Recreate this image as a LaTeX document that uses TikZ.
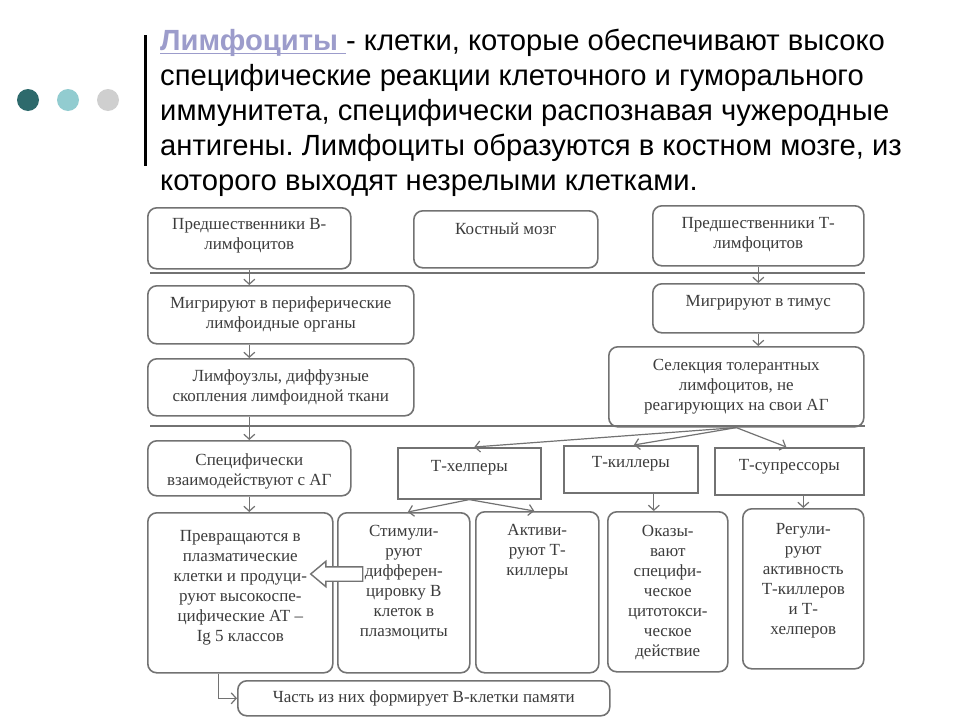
\documentclass[tikz,border=0pt]{standalone}
\usepackage{fontspec}
\setmainfont{Liberation Serif}
\newfontfamily\zagfont{Liberation Sans}
\usetikzlibrary{arrows.meta,shapes.arrows}
\definecolor{ramkacvet}{HTML}{727272}
\definecolor{tekstcvet}{HTML}{3C3C3C}
\definecolor{lilov}{HTML}{9C9CCB}
\definecolor{temnbir}{HTML}{2E6A6C}
\definecolor{svetbir}{HTML}{92CCD0}
\definecolor{serkrug}{HTML}{CFCFCF}
\newcommand{\podch}[1]{\setbox0\hbox{#1}\rlap{\rule[-3.5pt]{\wd0}{1.5pt}}\box0}
\frenchspacing

\begin{document}
\begin{tikzpicture}[x=1pt,y=-1pt,
  blok/.style = {draw=ramkacvet,line width=1.6pt,rounded corners=9pt,fill=white,anchor=north west,inner sep=0pt},
  ramka/.style = {draw=ramkacvet,line width=1.6pt,fill=white,anchor=north west,inner sep=0pt},
  tekst/.style = {anchor=north,align=center,inner sep=0pt,text=tekstcvet,font=\fontsize{17}{20}\selectfont},
  krug/.style = {circle,inner sep=0pt,minimum size=22pt},
  strelka/.style = {draw=ramkacvet,line width=1.2pt,-{Straight Barb[length=5pt,width=11pt]}},
  liniya/.style = {draw=ramkacvet,line width=1.2pt}]

\path[use as bounding box,fill=white] (0,0) rectangle (960,720);

\node[krug,fill=temnbir] (krug1) at (28,100) {};
\node[krug,fill=svetbir] (krug2) at (68,100) {};
\node[krug,fill=serkrug] (krug3) at (108,100) {};
\draw[line width=3pt] (145,35) -- (145,166);

\node[anchor=north west,align=left,inner sep=0pt,font=\zagfont\fontsize{29.2}{35}\selectfont] (zag) at (160,29)
  {\textcolor{lilov}{\podch{\bfseries Лимфоциты }}- клетки, которые обеспечивают высоко\\
   специфические реакции клеточного и гуморального\\
   иммунитета, специфически распознавая чужеродные\\
   антигены. Лимфоциты образуются в костном мозге, из\\
   которого выходят незрелыми клетками.};

\node[blok,minimum width=203pt,minimum height=61pt] (bpred) at (147,207) {};
\node[blok,minimum width=184pt,minimum height=57pt] (kmozg) at (413,210) {};
\node[blok,minimum width=211pt,minimum height=60pt] (tpred) at (652,205) {};
\node[blok,minimum width=266pt,minimum height=58pt] (bmigr) at (147,285) {};
\node[blok,minimum width=211pt,minimum height=49pt] (tmigr) at (652,283) {};
\node[blok,minimum width=266pt,minimum height=57pt] (limuz) at (147,358) {};
\node[blok,minimum width=255pt,minimum height=80pt] (selek) at (608,346) {};
\node[blok,minimum width=203pt,minimum height=55pt] (spec) at (147,440) {};
\node[ramka,minimum width=143pt,minimum height=51pt] (thelp) at (397,447) {};
\node[ramka,minimum width=134pt,minimum height=47pt] (tkill) at (563,445) {};
\node[ramka,minimum width=149pt,minimum height=47pt] (tsupr) at (714,447) {};
\node[blok,minimum width=185pt,minimum height=160pt] (prevr) at (147,512) {};
\node[blok,minimum width=132pt,minimum height=160pt] (stim) at (337,512) {};
\node[blok,minimum width=123pt,minimum height=161pt] (aktiv) at (475,511) {};
\node[blok,minimum width=120pt,minimum height=160pt] (okaz) at (607,511) {};
\node[blok,minimum width=121pt,minimum height=160pt] (regul) at (742,508) {};
\node[blok,minimum width=372pt,minimum height=35pt] (chast) at (237,680) {};

\node[tekst] (bpred-t) at ([yshift=-11pt]bpred.north) {Предшественники В-\\лимфоцитов};
\node[tekst] (kmozg-t) at ([yshift=-13pt]kmozg.north) {Костный мозг};
\node[tekst] (tpred-t) at ([yshift=-12pt]tpred.north) {Предшественники Т-\\лимфоцитов};
\node[tekst] (bmigr-t) at ([yshift=-11pt]bmigr.north) {Мигрируют в периферические\\лимфоидные органы};
\node[tekst] (tmigr-t) at ([yshift=-12pt]tmigr.north) {Мигрируют в тимус};
\node[tekst] (limuz-t) at ([yshift=-11pt]limuz.north) {Лимфоузлы, диффузные\\скопления лимфоидной ткани};
\node[tekst] (selek-t) at ([yshift=-13pt]selek.north) {Селекция толерантных\\лимфоцитов, не\\реагирующих на свои АГ};
\node[tekst] (spec-t) at ([yshift=-13pt]spec.north) {Специфически\\взаимодействуют с АГ};
\node[tekst] (thelp-t) at ([yshift=-13pt]thelp.north) {Т-хелперы};
\node[tekst] (tkill-t) at ([yshift=-11pt]tkill.north) {Т-киллеры};
\node[tekst] (tsupr-t) at ([yshift=-12pt]tsupr.north) {Т-супрессоры};
\node[tekst] (prevr-t) at ([yshift=-18pt]prevr.north) {Превращаются в\\плазматические\\клетки и продуци-\\руют высокоспе-\\цифические АТ –\\Ig 5 классов};
\node[tekst] (stim-t) at ([yshift=-13pt]stim.north) {Стимули-\\руют\\дифферен-\\цировку В\\клеток в\\плазмоциты};
\node[tekst] (aktiv-t) at ([yshift=-13pt]aktiv.north) {Активи-\\руют Т-\\киллеры};
\node[tekst] (okaz-t) at ([yshift=-14pt]okaz.north) {Оказы-\\вают\\специфи-\\ческое\\цитотокси-\\ческое\\действие};
\node[tekst] (regul-t) at ([yshift=-15pt]regul.north) {Регули-\\руют\\активность\\Т-киллеров\\и Т-\\хелперов};
\node[tekst,anchor=center] (chast-t) at (chast) {Часть из них формирует В-клетки памяти};

\node[single arrow,draw=ramkacvet,line width=1.4pt,fill=white,shape border rotate=180,
  minimum height=52pt,inner sep=6.5pt,single arrow head extend=5.5pt,single arrow tip angle=80] (blokstr) at (341,574) {};

\draw[liniya] (150,273) -- (865,273);
\draw[liniya] (150,426) -- (865,426);

\draw[strelka] (bpred.south) -- (bpred.south |- bmigr.north);
\draw[strelka] (bpred.south |- bmigr.south) -- (bpred.south |- limuz.north);
\draw[strelka] (spec.north |- limuz.south) -- (spec.north);
\draw[strelka] (spec.south) -- (spec.south |- prevr.north);
\draw[strelka] (tpred.south) -- (tmigr.north);
\draw[strelka] (tmigr.south) -- (tmigr.south |- selek.north);
\draw[strelka] (selek.south) -- ([xshift=5pt]thelp.north);
\draw[strelka] (selek.south) -- ([xshift=3pt]tkill.north);
\draw[strelka] (selek.south) -- ([xshift=-3pt]tsupr.north);
\draw[strelka] (thelp.south) -- ([xshift=4pt]stim.north);
\draw[strelka] (thelp.south) -- ([xshift=-3pt]aktiv.north);
\draw[strelka] ([xshift=-14pt]okaz.north |- tkill.south) -- ([xshift=-14pt]okaz.north);
\draw[strelka] (regul.north |- tsupr.south) -- (regul.north);
\draw[strelka] ([xshift=-22pt]prevr.south) |- (chast.west);
\end{tikzpicture}
\end{document}
